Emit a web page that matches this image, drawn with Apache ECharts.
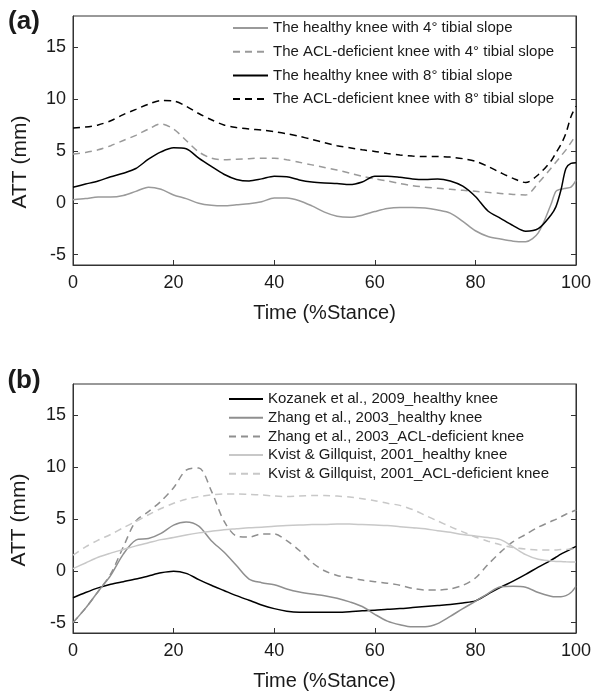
<!DOCTYPE html>
<html>
<head>
<meta charset="utf-8">
<script src="https://cdn.jsdelivr.net/npm/echarts@6/dist/echarts.min.js"></script>
<style>
html,body{margin:0;padding:0;background:#fff;}
#chart{width:594px;height:700px;}
</style>
</head>
<body>
<div id="chart"></div>
<script>
// ---------- data ----------
const xGrid = [0,2.5,5,7.5,10,12.5,15,17.5,20,22.5,25,27.5,30,32.5,35,37.5,40,42.5,45,47.5,50,52.5,55,57.5,60,62.5,65,67.5,70,72.5,75,77.5,80,82.5,85,87.5,90,92.5,95,96,97,98,99,100];
const xTicks = [0,20,40,60,80,100];
const yTicks = [-5,0,5,10,15];

// Panel (a)
const namesA = [
  'The healthy knee with 4\u00b0 tibial slope',
  'The ACL-deficient knee with 4\u00b0 tibial slope',
  'The healthy knee with 8\u00b0 tibial slope',
  'The ACL-deficient knee with 8\u00b0 tibial slope'
];
const healthy4 = [0.3,0.4,0.55,0.55,0.7,1.1,1.5,1.3,0.75,0.4,-0.05,-0.25,-0.3,-0.2,-0.1,0.1,0.45,0.45,0.2,-0.3,-0.9,-1.3,-1.4,-1.2,-0.85,-0.55,-0.45,-0.45,-0.5,-0.7,-1.0,-1.8,-2.7,-3.25,-3.5,-3.7,-3.75,-2.9,-0.2,1.1,1.3,1.4,1.5,2.15];
const acl4 = [4.7,4.85,5.1,5.5,6.0,6.5,7.1,7.6,7.1,6.0,4.9,4.3,4.15,4.2,4.25,4.3,4.3,4.15,3.9,3.65,3.4,3.15,2.85,2.55,2.3,2.1,1.85,1.65,1.5,1.4,1.3,1.2,1.1,1.0,0.9,0.8,0.75,1.9,3.3,3.9,4.5,5.1,5.8,6.5];
const healthy8 = [1.5,1.8,2.1,2.5,2.85,3.3,4.2,4.9,5.3,5.2,4.3,3.5,2.75,2.25,2.1,2.3,2.55,2.5,2.2,2.0,1.9,1.85,1.75,2.0,2.55,2.55,2.45,2.3,2.25,2.3,2.1,1.6,0.6,-0.8,-1.5,-2.2,-2.75,-2.5,-1.2,-0.4,1.2,3.3,3.8,3.85];
const acl8 = [7.2,7.3,7.5,7.9,8.5,9.0,9.5,9.85,9.8,9.3,8.6,8.0,7.5,7.25,7.1,7.0,6.85,6.65,6.4,6.1,5.8,5.5,5.3,5.1,4.95,4.75,4.6,4.5,4.45,4.45,4.4,4.25,4.0,3.5,2.9,2.35,1.95,2.7,4.0,4.8,5.6,6.7,8.3,9.3];

// Panel (b)
const namesB = [
  'Kozanek et al., 2009_healthy knee',
  'Zhang et al., 2003_healthy knee',
  'Zhang et al., 2003_ACL-deficient knee',
  'Kvist & Gillquist, 2001_healthy knee',
  'Kvist & Gillquist, 2001_ACL-deficient knee'
];
const kozanek = [-2.6,-2.1,-1.65,-1.3,-1.05,-0.8,-0.5,-0.2,-0.05,-0.25,-0.85,-1.4,-1.9,-2.4,-2.85,-3.3,-3.65,-3.9,-4.0,-4.0,-4.0,-4.0,-3.95,-3.85,-3.8,-3.7,-3.65,-3.55,-3.45,-3.35,-3.25,-3.1,-2.9,-2.25,-1.6,-1.0,-0.35,0.35,1.0,1.3,1.6,1.85,2.1,2.35];
const zhangH = [-5.0,-3.6,-2.0,-0.45,1.6,2.95,3.1,3.6,4.4,4.7,4.3,2.9,1.8,0.5,-0.8,-1.15,-1.35,-1.75,-2.05,-2.25,-2.4,-2.65,-3.0,-3.45,-4.2,-4.85,-5.2,-5.4,-5.4,-5.1,-4.4,-3.65,-2.95,-2.2,-1.55,-1.5,-1.6,-2.1,-2.45,-2.5,-2.5,-2.4,-2.1,-1.5];
const zhangA = [-5.0,-3.6,-2.0,-0.3,2.3,4.8,5.7,6.7,8.0,9.7,9.9,7.7,4.8,3.35,3.25,3.55,3.55,2.9,1.95,0.8,0.0,-0.45,-0.65,-0.9,-1.05,-1.2,-1.4,-1.7,-1.85,-1.85,-1.75,-1.4,-0.7,0.6,1.8,2.8,3.5,4.2,4.75,4.95,5.2,5.45,5.65,5.85];
const kvistH = [0.2,0.75,1.3,1.7,2.05,2.4,2.7,3.0,3.2,3.45,3.65,3.8,3.95,4.05,4.15,4.2,4.3,4.35,4.4,4.45,4.45,4.5,4.5,4.45,4.4,4.35,4.25,4.15,4.05,3.85,3.7,3.5,3.35,3.2,3.0,2.3,1.55,1.1,0.95,0.9,0.88,0.86,0.85,0.85];
const kvistA = [1.5,2.3,2.95,3.5,4.15,4.75,5.4,6.0,6.5,6.9,7.15,7.3,7.4,7.4,7.35,7.3,7.2,7.15,7.2,7.25,7.25,7.2,7.1,6.95,6.75,6.5,6.3,5.9,5.35,4.8,4.25,3.75,3.25,2.85,2.5,2.25,2.1,2.0,2.0,2.0,2.05,2.05,2.1,2.1];

// ---------- chart ----------
const FONT = '"Liberation Sans", Arial, Helvetica, sans-serif';
const TXT = '#1a1a1a';
const AX = '#333';
const pts = ys => xGrid.map((x, i) => [x, ys[i]]);

function xAx(gi) {
  return {
    gridIndex: gi, type: 'value', min: 0, max: 100, interval: 20,
    axisLine: { show: true, onZero: false, lineStyle: { color: AX, width: 1 } },
    axisTick: { show: true, inside: true, length: 5, lineStyle: { color: AX } },
    axisLabel: { fontSize: 18, margin: 9, color: TXT, fontFamily: FONT },
    splitLine: { show: false },
    name: 'Time (%Stance)', nameLocation: 'middle', nameGap: 38,
    nameTextStyle: { fontSize: 20, color: TXT, fontFamily: FONT }
  };
}
function yAx(gi, right) {
  return {
    gridIndex: gi, type: 'value', min: -6, max: 18,
    position: right ? 'right' : 'left',
    axisLine: { show: true, onZero: false, lineStyle: { color: AX, width: 1 } },
    axisTick: { show: true, inside: true, length: 5, customValues: yTicks, lineStyle: { color: AX } },
    axisLabel: right ? { show: false } : { customValues: yTicks, fontSize: 18, margin: 7, color: TXT, fontFamily: FONT },
    splitLine: { show: false }
  };
}
function line(name, ys, color, dashed, gi) {
  return {
    name, type: 'line', xAxisIndex: gi, yAxisIndex: gi * 2,
    data: pts(ys), symbol: 'none', smooth: 0.3,
    lineStyle: { color, width: 1.5, type: dashed ? [7, 5] : 'solid' },
    itemStyle: { color },
    emphasis: { disabled: true }, silent: true, z: 3
  };
}

const GRAY = '#9a9a9a', ZG = '#8f8f8f', LG = '#c8c8c8', BK = '#000000';

const legendCommon = {
  orient: 'vertical', itemHeight: 14, padding: 0,
  itemStyle: { opacity: 0, borderWidth: 0 },
  textStyle: { fontSize: 15, lineHeight: 16, color: TXT, fontFamily: FONT }
};

const option = {
  animation: false,
  textStyle: { fontFamily: FONT },
  grid: [
    { left: 73, top: 16, width: 505, height: 249, show: true, borderColor: AX, borderWidth: 1 },
    { left: 73, top: 384, width: 505, height: 249, show: true, borderColor: AX, borderWidth: 1 }
  ],
  xAxis: [xAx(0), xAx(1)],
  yAxis: [yAx(0, false), yAx(0, true), yAx(1, false), yAx(1, true)],
  legend: [
    Object.assign({ data: namesA, left: 232, top: 20, itemWidth: 35, itemGap: 7.7 }, legendCommon),
    Object.assign({ data: namesB, left: 228, top: 391, itemWidth: 34, itemGap: 2.7 }, legendCommon)
  ],
  series: [
    line(namesA[0], healthy4, GRAY, false, 0),
    line(namesA[1], acl4, GRAY, true, 0),
    line(namesA[2], healthy8, BK, false, 0),
    line(namesA[3], acl8, BK, true, 0),
    line(namesB[0], kozanek, BK, false, 1),
    line(namesB[1], zhangH, ZG, false, 1),
    line(namesB[2], zhangA, ZG, true, 1),
    line(namesB[3], kvistH, LG, false, 1),
    line(namesB[4], kvistA, LG, true, 1)
  ],
  graphic: [
    { type: 'text', x: 24, y: 22, style: { text: '(a)', font: 'bold 26px ' + FONT, fill: TXT, align: 'center', verticalAlign: 'middle' } },
    { type: 'text', x: 24, y: 381, style: { text: '(b)', font: 'bold 26px ' + FONT, fill: TXT, align: 'center', verticalAlign: 'middle' } },
    { type: 'text', x: 20, y: 162, rotation: Math.PI / 2, style: { text: 'ATT (mm)', font: '21px ' + FONT, fill: TXT, align: 'center', verticalAlign: 'middle' } },
    { type: 'text', x: 19, y: 520, rotation: Math.PI / 2, style: { text: 'ATT (mm)', font: '21px ' + FONT, fill: TXT, align: 'center', verticalAlign: 'middle' } }
  ]
};

const chart = echarts.init(document.getElementById('chart'), null, { renderer: 'canvas' });
chart.setOption(option);
</script>
</body>
</html>
